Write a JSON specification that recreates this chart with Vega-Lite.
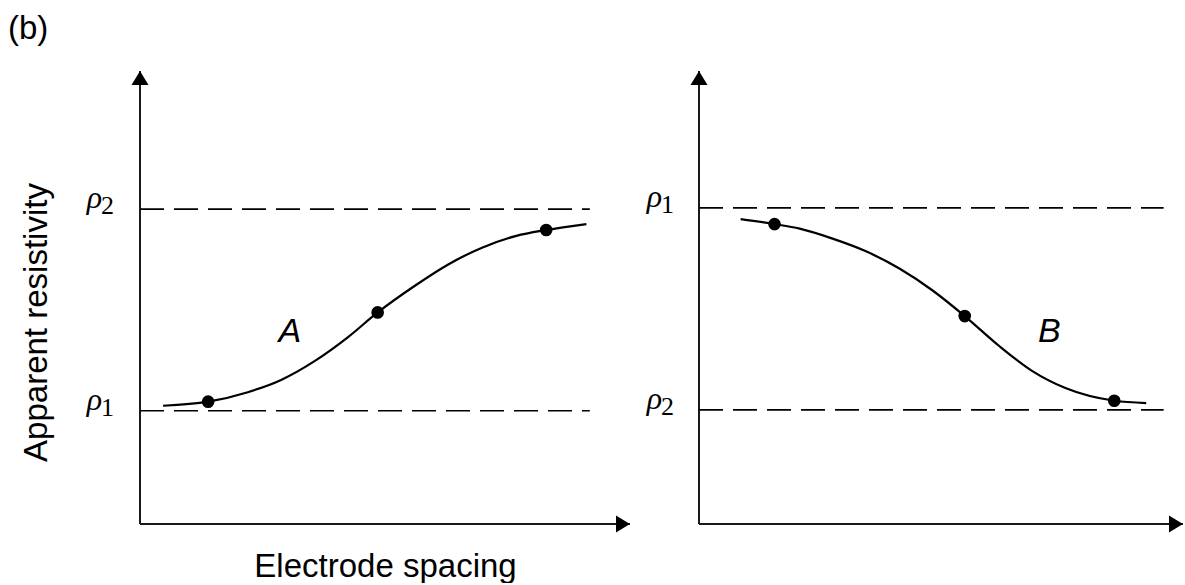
{
  "$schema": "https://vega.github.io/schema/vega-lite/v6.json",
  "background": "white",
  "padding": {"left": 8, "top": 13, "right": 0, "bottom": 0},
  "title": {
    "text": "(b)",
    "anchor": "start",
    "frame": "bounds",
    "font": "Liberation Sans",
    "fontSize": 33,
    "fontWeight": "normal",
    "color": "black",
    "dx": -12,
    "offset": 24
  },
  "config": {
    "view": {"stroke": null},
    "font": "Liberation Sans"
  },
  "spacing": 69,
  "bounds": "flush",
  "datasets": {
    "frame": [
      {"x": 0, "y": 0, "x2": 100, "y2": 0},
      {"x": 0, "y": 0, "x2": 0, "y2": 100}
    ],
    "arrows": [
      {"x": 100, "y": 0, "dir": "right"},
      {"x": 0, "y": 100, "dir": "up"}
    ],
    "levelsA": [
      {"rho": "ρ", "sub": "1", "x": 0, "x2": 91.8, "y": 25},
      {"rho": "ρ", "sub": "2", "x": 0, "x2": 91.8, "y": 69.5}
    ],
    "levelsB": [
      {"rho": "ρ", "sub": "1", "x": 0, "x2": 96, "y": 69.8},
      {"rho": "ρ", "sub": "2", "x": 0, "x2": 96, "y": 25.2}
    ],
    "curveA": [
      {"x": 4.7, "y": 26.1},
      {"x": 13.9, "y": 27.0},
      {"x": 22.0, "y": 29.1},
      {"x": 28.8, "y": 31.8},
      {"x": 35.7, "y": 36.0},
      {"x": 42.4, "y": 41.2},
      {"x": 48.5, "y": 46.7},
      {"x": 56.1, "y": 52.6},
      {"x": 62.9, "y": 57.3},
      {"x": 69.8, "y": 61.0},
      {"x": 76.8, "y": 63.6},
      {"x": 82.9, "y": 64.9},
      {"x": 91.1, "y": 66.2}
    ],
    "pointsA": [
      {"x": 13.9, "y": 27.0},
      {"x": 48.5, "y": 46.7},
      {"x": 82.9, "y": 64.9}
    ],
    "curveB": [
      {"x": 8.6, "y": 67.3},
      {"x": 15.6, "y": 66.2},
      {"x": 20.8, "y": 65.2},
      {"x": 27.6, "y": 63.0},
      {"x": 34.5, "y": 60.2},
      {"x": 41.4, "y": 56.4},
      {"x": 48.2, "y": 51.6},
      {"x": 54.9, "y": 45.9},
      {"x": 61.9, "y": 39.4},
      {"x": 68.8, "y": 33.8},
      {"x": 75.7, "y": 30.0},
      {"x": 85.8, "y": 27.2},
      {"x": 92.4, "y": 26.7}
    ],
    "pointsB": [
      {"x": 15.6, "y": 66.2},
      {"x": 54.9, "y": 45.9},
      {"x": 85.8, "y": 27.2}
    ],
    "curveLabelA": [{"x": 30.6, "y": 40.2, "name": "A"}],
    "curveLabelB": [{"x": 72.4, "y": 40.2, "name": "B"}]
  },
  "hconcat": [
    {
      "width": 490,
      "height": 453,
      "layer": [
        {
          "data": {"name": "frame"},
          "mark": {"type": "rule", "strokeWidth": 2, "color": "#1a1a1a"},
          "encoding": {
            "x": {
              "field": "x", "type": "quantitative",
              "scale": {"domain": [0, 100], "nice": false, "zero": false},
              "axis": {
                "title": "Electrode spacing",
                "domain": false, "ticks": false, "labels": false, "grid": false,
                "titleFont": "Liberation Sans", "titleFontSize": 33,
                "titleFontWeight": "normal", "titleColor": "black",
                "titlePadding": 26
              }
            },
            "x2": {"field": "x2"},
            "y": {
              "field": "y", "type": "quantitative",
              "scale": {"domain": [0, 100], "nice": false, "zero": false},
              "axis": {
                "title": "Apparent resistivity",
                "domain": false, "ticks": false, "labels": false, "grid": false,
                "titleFont": "Liberation Sans", "titleFontSize": 33,
                "titleFontWeight": "normal", "titleColor": "black",
                "titlePadding": 87, "titleY": 251
              }
            },
            "y2": {"field": "y2"}
          }
        },
        {
          "data": {"name": "arrows"},
          "mark": {"type": "point", "filled": true, "opacity": 1, "color": "black", "size": 289},
          "encoding": {
            "x": {"field": "x", "type": "quantitative"},
            "y": {"field": "y", "type": "quantitative"},
            "shape": {
              "field": "dir", "type": "nominal", "legend": null,
              "scale": {"domain": ["up", "right"], "range": ["M0,0L1,1.65L-1,1.65Z", "M0,0L-1.65,-1L-1.65,1Z"]}
            }
          }
        },
        {
          "data": {"name": "levelsA"},
          "mark": {"type": "rule", "strokeWidth": 1.7, "color": "black", "strokeDash": [24, 10]},
          "encoding": {
            "x": {"field": "x", "type": "quantitative"},
            "x2": {"field": "x2"},
            "y": {"field": "y", "type": "quantitative"}
          }
        },
        {
          "data": {"name": "curveA"},
          "mark": {"type": "line", "interpolate": "monotone", "strokeWidth": 2.2, "color": "black"},
          "encoding": {
            "x": {"field": "x", "type": "quantitative"},
            "y": {"field": "y", "type": "quantitative"}
          }
        },
        {
          "data": {"name": "pointsA"},
          "mark": {"type": "point", "filled": true, "opacity": 1, "color": "black", "size": 160, "shape": "circle"},
          "encoding": {
            "x": {"field": "x", "type": "quantitative"},
            "y": {"field": "y", "type": "quantitative"}
          }
        },
        {
          "data": {"name": "levelsA"},
          "mark": {"type": "text", "font": "Liberation Serif", "fontStyle": "italic", "fontSize": 32, "align": "right", "baseline": "alphabetic", "dx": -38, "dy": -1, "color": "black"},
          "encoding": {
            "x": {"field": "x", "type": "quantitative"},
            "y": {"field": "y", "type": "quantitative"},
            "text": {"field": "rho"}
          }
        },
        {
          "data": {"name": "levelsA"},
          "mark": {"type": "text", "font": "Liberation Serif", "fontSize": 26, "align": "left", "baseline": "alphabetic", "dx": -39, "dy": 5, "color": "black"},
          "encoding": {
            "x": {"field": "x", "type": "quantitative"},
            "y": {"field": "y", "type": "quantitative"},
            "text": {"field": "sub"}
          }
        },
        {
          "data": {"name": "curveLabelA"},
          "mark": {"type": "text", "font": "Liberation Sans", "fontStyle": "italic", "fontSize": 34, "align": "center", "baseline": "alphabetic", "color": "black"},
          "encoding": {
            "x": {"field": "x", "type": "quantitative"},
            "y": {"field": "y", "type": "quantitative"},
            "text": {"field": "name"}
          }
        }
      ]
    },
    {
      "width": 484,
      "height": 453,
      "layer": [
        {
          "data": {"name": "frame"},
          "mark": {"type": "rule", "strokeWidth": 2, "color": "#1a1a1a"},
          "encoding": {
            "x": {
              "field": "x", "type": "quantitative",
              "scale": {"domain": [0, 100], "nice": false, "zero": false},
              "axis": null
            },
            "x2": {"field": "x2"},
            "y": {
              "field": "y", "type": "quantitative",
              "scale": {"domain": [0, 100], "nice": false, "zero": false},
              "axis": null
            },
            "y2": {"field": "y2"}
          }
        },
        {
          "data": {"name": "arrows"},
          "mark": {"type": "point", "filled": true, "opacity": 1, "color": "black", "size": 289},
          "encoding": {
            "x": {"field": "x", "type": "quantitative"},
            "y": {"field": "y", "type": "quantitative"},
            "shape": {
              "field": "dir", "type": "nominal", "legend": null,
              "scale": {"domain": ["up", "right"], "range": ["M0,0L1,1.65L-1,1.65Z", "M0,0L-1.65,-1L-1.65,1Z"]}
            }
          }
        },
        {
          "data": {"name": "levelsB"},
          "mark": {"type": "rule", "strokeWidth": 1.7, "color": "black", "strokeDash": [24, 10]},
          "encoding": {
            "x": {"field": "x", "type": "quantitative"},
            "x2": {"field": "x2"},
            "y": {"field": "y", "type": "quantitative"}
          }
        },
        {
          "data": {"name": "curveB"},
          "mark": {"type": "line", "interpolate": "monotone", "strokeWidth": 2.2, "color": "black"},
          "encoding": {
            "x": {"field": "x", "type": "quantitative"},
            "y": {"field": "y", "type": "quantitative"}
          }
        },
        {
          "data": {"name": "pointsB"},
          "mark": {"type": "point", "filled": true, "opacity": 1, "color": "black", "size": 160, "shape": "circle"},
          "encoding": {
            "x": {"field": "x", "type": "quantitative"},
            "y": {"field": "y", "type": "quantitative"}
          }
        },
        {
          "data": {"name": "levelsB"},
          "mark": {"type": "text", "font": "Liberation Serif", "fontStyle": "italic", "fontSize": 32, "align": "right", "baseline": "alphabetic", "dx": -37, "dy": -1, "color": "black"},
          "encoding": {
            "x": {"field": "x", "type": "quantitative"},
            "y": {"field": "y", "type": "quantitative"},
            "text": {"field": "rho"}
          }
        },
        {
          "data": {"name": "levelsB"},
          "mark": {"type": "text", "font": "Liberation Serif", "fontSize": 26, "align": "left", "baseline": "alphabetic", "dx": -38, "dy": 5, "color": "black"},
          "encoding": {
            "x": {"field": "x", "type": "quantitative"},
            "y": {"field": "y", "type": "quantitative"},
            "text": {"field": "sub"}
          }
        },
        {
          "data": {"name": "curveLabelB"},
          "mark": {"type": "text", "font": "Liberation Sans", "fontStyle": "italic", "fontSize": 34, "align": "center", "baseline": "alphabetic", "color": "black"},
          "encoding": {
            "x": {"field": "x", "type": "quantitative"},
            "y": {"field": "y", "type": "quantitative"},
            "text": {"field": "name"}
          }
        }
      ]
    }
  ]
}
